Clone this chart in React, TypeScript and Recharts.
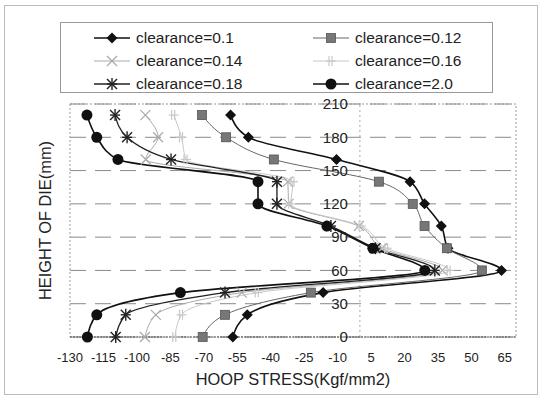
import React from 'react';
import {
  ComposedChart,
  Line,
  XAxis,
  YAxis,
  ReferenceArea,
  ReferenceLine,
  ReferenceDot,
} from 'recharts';

// height of die (mm) at which each stress value was measured
const heights = [0, 20, 40, 60, 80, 100, 120, 140, 160, 180, 200];

// hoop stress (Kgf/mm2) per clearance, same order as heights
const c010 = [-57, -50.5, -16.5, 63.5, 39.5, 36.5, 29, 22.5, -10.5, -50, -58];
const c012 = [-70.5, -60.5, -22, 54.7, 39, 29, 23.7, 8.5, -38.6, -60, -70.8];
const c014 = [-96.4, -91.5, -53, 37, 10, -0.5, -32, -32.3, -96, -90.5, -96.2];
const c016 = [-83, -80, -46, 40, 12, 0.5, -31, -30, -78, -80, -83.5];
const c018 = [-109.5, -105, -60.5, 33.6, 7, -13, -37.2, -37.2, -84.7, -104.4, -109.8];
const c200 = [-122.2, -118, -80.5, 29.1, 5.8, -14.8, -45.7, -45.7, -108.5, -118, -122.4];

const stressTicks = [-130, -115, -100, -85, -70, -55, -40, -25, -10, 5, 20, 35, 50, 65];
const heightTicks = [0, 30, 60, 90, 120, 150, 180, 210];

type Shape = 'diamond' | 'square' | 'cross' | 'bar' | 'star' | 'circle';

const series: { key: string; name: string; values: number[]; color: string; width: number; shape: Shape }[] = [
  { key: 'c010', name: 'clearance=0.1', values: c010, color: '#111', width: 1.6, shape: 'diamond' },
  { key: 'c012', name: 'clearance=0.12', values: c012, color: '#666', width: 1, shape: 'square' },
  { key: 'c014', name: 'clearance=0.14', values: c014, color: '#aaa', width: 1, shape: 'cross' },
  { key: 'c016', name: 'clearance=0.16', values: c016, color: '#c8c8c8', width: 1, shape: 'bar' },
  { key: 'c018', name: 'clearance=0.18', values: c018, color: '#222', width: 1.3, shape: 'star' },
  { key: 'c200', name: 'clearance=2.0', values: c200, color: '#111', width: 1.6, shape: 'circle' },
];

function Marker({ shape, color, cx, cy }: { shape: Shape; color: string; cx: number; cy: number }) {
  if (cx == null || cy == null) return null;
  switch (shape) {
    case 'diamond':
      return <polygon points={`${cx},${cy - 5.5} ${cx + 5.5},${cy} ${cx},${cy + 5.5} ${cx - 5.5},${cy}`} fill={color} />;
    case 'square':
      return <rect x={cx - 4.5} y={cy - 4.5} width={9} height={9} fill="#777" stroke="#555" strokeWidth={0.8} />;
    case 'cross':
      return (
        <g stroke={color} strokeWidth={1.2}>
          <line x1={cx - 5} y1={cy - 5} x2={cx + 5} y2={cy + 5} />
          <line x1={cx - 5} y1={cy + 5} x2={cx + 5} y2={cy - 5} />
        </g>
      );
    case 'bar':
      return (
        <g stroke={color} strokeWidth={1.2}>
          <line x1={cx - 2} y1={cy - 5} x2={cx - 2} y2={cy + 5} />
          <line x1={cx + 1} y1={cy - 5} x2={cx + 1} y2={cy + 5} />
          <line x1={cx - 5} y1={cy} x2={cx + 5} y2={cy} />
        </g>
      );
    case 'star':
      return (
        <g stroke={color} strokeWidth={1.4}>
          <line x1={cx - 5} y1={cy - 5} x2={cx + 5} y2={cy + 5} />
          <line x1={cx - 5} y1={cy + 5} x2={cx + 5} y2={cy - 5} />
          <line x1={cx} y1={cy - 6} x2={cx} y2={cy + 6} />
          <line x1={cx - 5} y1={cy} x2={cx + 5} y2={cy} />
        </g>
      );
    default:
      return <circle cx={cx} cy={cy} r={5.5} fill={color} />;
  }
}

export default function App() {
  const data = heights.map((h, i) => {
    const row: Record<string, number> = { h };
    series.forEach((s) => {
      row[s.key] = s.values[i];
    });
    return row;
  });

  return (
    <div
      style={{
        position: 'absolute',
        left: 0,
        top: 0,
        width: 541,
        height: 398,
        background: '#fff',
        fontFamily: '"Liberation Sans", Arial, sans-serif',
      }}
    >
      <div style={{ position: 'absolute', left: 4, top: 5, width: 532, height: 388, border: '1px solid #bbb' }} />
      <div
        style={{
          position: 'absolute',
          left: 60,
          top: 22,
          width: 433,
          height: 71,
          border: '1px solid #999',
          boxSizing: 'border-box',
          zIndex: 2,
        }}
      >
        {series.map((s, i) => {
          const col = i % 2;
          const row = Math.floor(i / 2);
          return (
            <div
              key={s.key}
              style={{
                position: 'absolute',
                left: col === 0 ? 32 : 251,
                top: 4 + row * 23,
                height: 22,
                display: 'flex',
                alignItems: 'center',
              }}
            >
              <svg width={38} height={14} style={{ marginRight: 5 }}>
                <line x1={1} y1={7} x2={37} y2={7} stroke={s.color} strokeWidth={s.width} />
                <Marker shape={s.shape} color={s.color} cx={19} cy={7} />
              </svg>
              <span style={{ fontSize: 15.5, color: '#222' }}>{s.name}</span>
            </div>
          );
        })}
      </div>
      <ComposedChart
        width={541}
        height={398}
        layout="vertical"
        data={data}
        margin={{ top: 104, right: 25, bottom: 13, left: 0 }}
      >
        {heightTicks.map((t) => (
          <ReferenceLine key={`g${t}`} y={t} stroke="#8a8a8a" strokeDasharray="16 9" />
        ))}
        <ReferenceArea x1={-130} x2={70} y1={0} y2={210} fill="none" stroke="#999" strokeDasharray="2 2" />
        <ReferenceLine x={0} stroke="#aaa" strokeDasharray="2 3" />
        <XAxis
          type="number"
          domain={[-130, 70]}
          ticks={stressTicks}
          allowDataOverflow
          axisLine={{ stroke: '#555', strokeDasharray: '2 1' }}
          tickLine={false}
          tick={{ fontSize: 13, fill: '#222' }}
          tickMargin={10}
          height={48}
          label={{ value: 'HOOP STRESS(Kgf/mm2)', position: 'insideBottom', offset: 0, fontSize: 16.4, fill: '#222' }}
        />
        <YAxis
          type="number"
          dataKey="h"
          domain={[0, 210]}
          ticks={heightTicks}
          reversed
          width={70}
          tick={false}
          axisLine={false}
          tickLine={false}
          label={{
            value: 'HEIGHT OF DIE(mm)',
            angle: -90,
            position: 'insideLeft',
            offset: 45,
            fontSize: 16.4,
            fill: '#222',
            style: { textAnchor: 'middle' },
          }}
        />
        {heightTicks.map((t) => (
          <ReferenceDot
            key={t}
            x={0}
            y={t}
            r={0}
            fill="none"
            stroke="none"
            label={{ value: t, position: 'left', offset: 12, fontSize: 15, fill: '#222' }}
          />
        ))}
        {series.map((s) => (
          <Line
            key={s.key}
            dataKey={s.key}
            name={s.name}
            type="monotone"
            stroke={s.color}
            strokeWidth={s.width}
            dot={(p: any) => <Marker key={`${s.key}-${p.index}`} shape={s.shape} color={s.color} cx={p.cx} cy={p.cy} />}
            activeDot={false}
            isAnimationActive={false}
          />
        ))}
      </ComposedChart>
    </div>
  );
}
